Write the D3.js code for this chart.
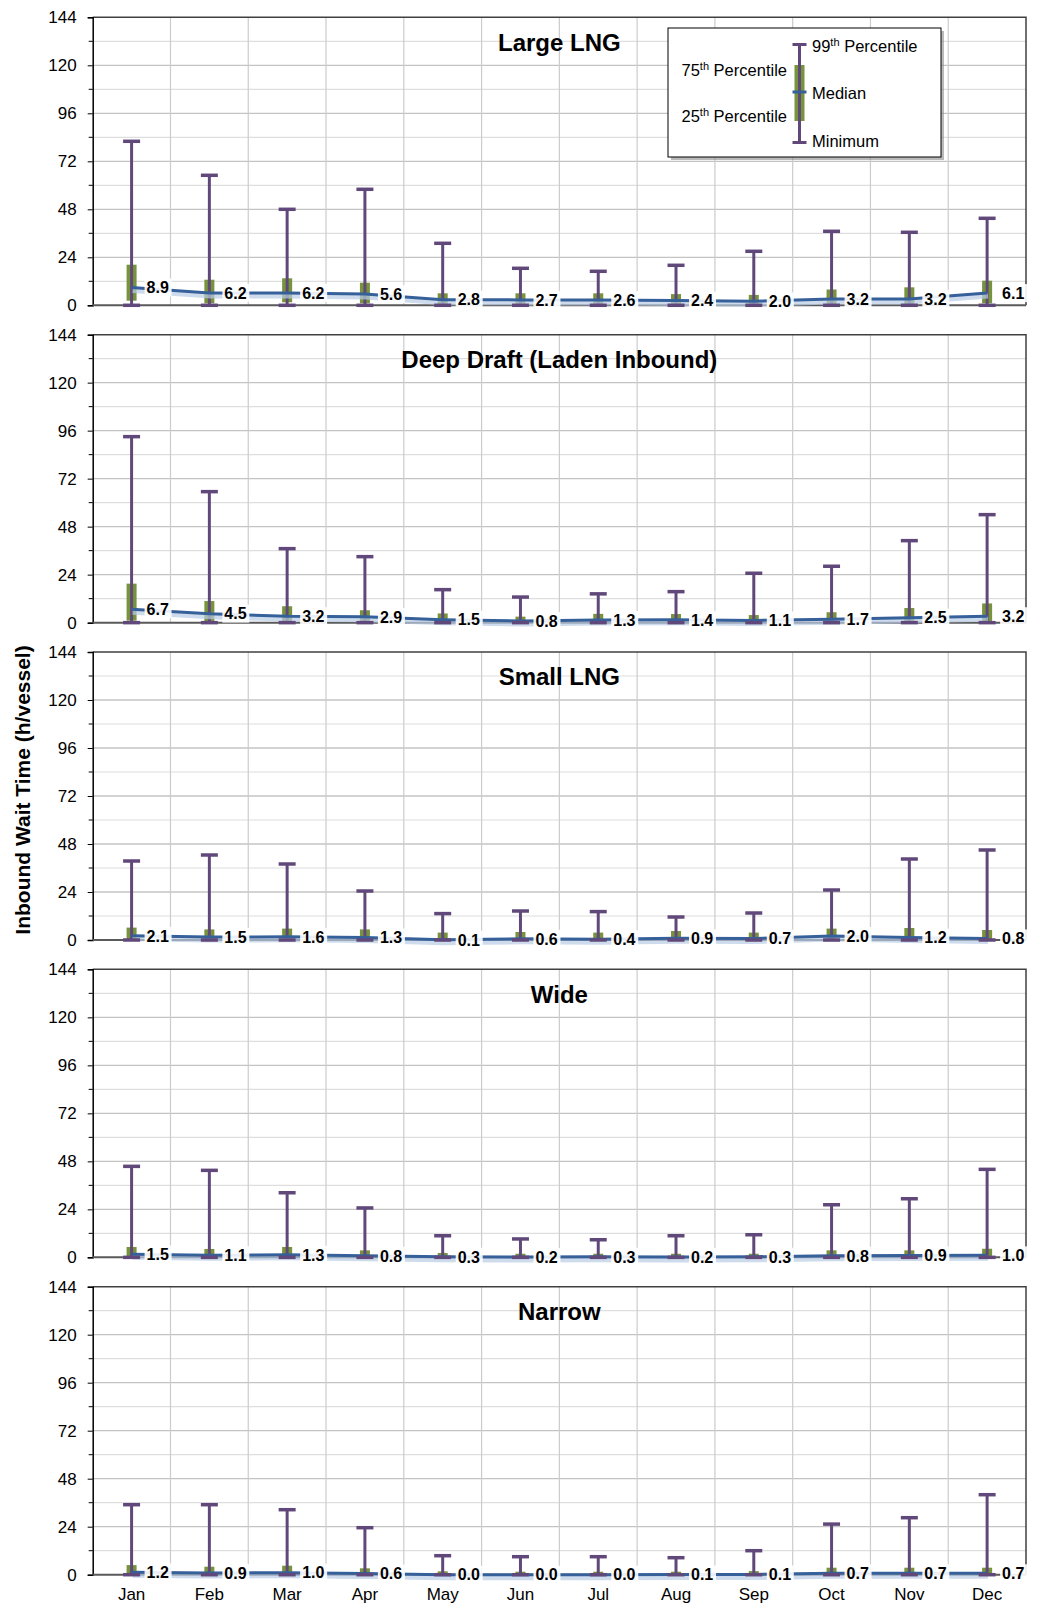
<!DOCTYPE html>
<html>
<head>
<meta charset="utf-8">
<script src="https://cdn.jsdelivr.net/npm/d3@7"></script>
<style>
  body { margin: 0; background: #fff; }
  svg { display: block; font-family: "Liberation Sans", Arial, sans-serif; }
</style>
</head>
<body>
<svg id="chart" width="1037" height="1604"></svg>
<script>
// ---- data (hours per vessel) ----
const months = ["Jan", "Feb", "Mar", "Apr", "May", "Jun", "Jul", "Aug", "Sep", "Oct", "Nov", "Dec"];
const yTicks = [0, 24, 48, 72, 96, 120, 144];
const panelTitles = ["Large LNG", "Deep Draft (Laden Inbound)", "Small LNG", "Wide", "Narrow"];

const largeP99 = [82, 65, 48, 58, 31, 18.5, 17, 20, 27, 37, 36.5, 43.5];
const largeQ3  = [20.3, 12.8, 13.5, 11.3, 6, 6, 6, 5.6, 5.2, 7.9, 9, 12.3];
const largeQ1  = [2.3, 1, 1.5, 1, 0.5, 0.5, 0.5, 0.5, 0.4, 0.5, 0.5, 1];
const largeMed = [8.9, 6.2, 6.2, 5.6, 2.8, 2.7, 2.6, 2.4, 2.0, 3.2, 3.2, 6.1];

const deepP99 = [93, 65.5, 37, 33, 16.5, 12.8, 14.4, 15.5, 24.7, 28.2, 41, 54];
const deepQ3  = [19.5, 10.8, 8.2, 6.2, 4.6, 3, 4.4, 4.3, 3.8, 5.2, 7.3, 9.6];
const deepQ1  = [1, 0.5, 0.3, 0.3, 0.2, 0.1, 0.2, 0.2, 0.1, 0.2, 0.3, 0.4];
const deepMed = [6.7, 4.5, 3.2, 2.9, 1.5, 0.8, 1.3, 1.4, 1.1, 1.7, 2.5, 3.2];

const smallP99 = [39.5, 42.5, 38, 24.5, 13.2, 14.5, 14.2, 11.5, 13.5, 25, 40.5, 45];
const smallQ3  = [6.2, 5.3, 5.7, 5.3, 3.7, 4, 3.7, 4.5, 3.7, 5.7, 6, 5];
const smallQ1  = [0.3, 0.2, 0.2, 0.2, 0, 0.1, 0, 0.1, 0.1, 0.3, 0.2, 0.1];
const smallMed = [2.1, 1.5, 1.6, 1.3, 0.1, 0.6, 0.4, 0.9, 0.7, 2.0, 1.2, 0.8];

const wideP99 = [45.5, 43.5, 32.3, 24.7, 10.8, 9.2, 8.8, 10.8, 11.3, 26.3, 29.3, 44];
const wideQ3  = [5.2, 4.2, 5.2, 3.5, 2.2, 1.8, 1.8, 1.8, 1.8, 3.5, 3.5, 4.3];
const wideQ1  = [0.2, 0.1, 0.1, 0.1, 0, 0, 0, 0, 0, 0.1, 0.1, 0.1];
const wideMed = [1.5, 1.1, 1.3, 0.8, 0.3, 0.2, 0.3, 0.2, 0.3, 0.8, 0.9, 1.0];

const narrowP99 = [35, 35, 32.5, 23.5, 9.5, 9, 9, 8.5, 12, 25.3, 28.5, 40];
const narrowQ3  = [4.8, 4, 4.5, 3.2, 1.7, 1.5, 1.5, 1.5, 1.8, 3.5, 3.5, 3.5];
const narrowQ1  = [0.1, 0.1, 0.1, 0, 0, 0, 0, 0, 0, 0, 0, 0];
const narrowMed = [1.2, 0.9, 1.0, 0.6, 0.0, 0.0, 0.0, 0.1, 0.1, 0.7, 0.7, 0.7];

const minimum = [0, 0, 0, 0, 0, 0, 0, 0, 0, 0, 0, 0];

const panels = [
  { p99: largeP99, q3: largeQ3, q1: largeQ1, med: largeMed },
  { p99: deepP99, q3: deepQ3, q1: deepQ1, med: deepMed },
  { p99: smallP99, q3: smallQ3, q1: smallQ1, med: smallMed },
  { p99: wideP99, q3: wideQ3, q1: wideQ1, med: wideMed },
  { p99: narrowP99, q3: narrowQ3, q1: narrowQ1, med: narrowMed }
].map((p, i) => ({ ...p, min: minimum, title: panelTitles[i] }));

// ---- layout ----
const left = 92.7, right = 1026;
const firstTop = 17.3, panelH = 288, panelStep = 317.35;

const purple = "#60497a", green = "#77933c", blue = "#36609a";

const svg = d3.select("#chart");

const x = d3.scaleBand()
  .domain(months)
  .range([left, right]);
const cx = m => x(m) + x.bandwidth() / 2;

panels.forEach((p, pi) => {
  const top = firstTop + pi * panelStep;
  const y = d3.scaleLinear().domain([0, 144]).range([top + panelH, top]);
  const g = svg.append("g");

  // minor gridlines every 12
  g.selectAll(".minor")
    .data(d3.range(12, 144, 24))
    .enter().append("line")
    .attr("x1", left).attr("x2", right)
    .attr("y1", d => y(d)).attr("y2", d => y(d))
    .attr("stroke", "#dedede").attr("stroke-width", 1.2);

  // major gridlines every 24
  g.selectAll(".major")
    .data(yTicks.slice(1, -1))
    .enter().append("line")
    .attr("x1", left).attr("x2", right)
    .attr("y1", d => y(d)).attr("y2", d => y(d))
    .attr("stroke", "#c4c4c4").attr("stroke-width", 1.3);

  // vertical gridlines at category edges
  g.selectAll(".vgrid")
    .data(months.slice(1))
    .enter().append("line")
    .attr("x1", d => x(d)).attr("x2", d => x(d))
    .attr("y1", top).attr("y2", top + panelH)
    .attr("stroke", "#cccccc").attr("stroke-width", 1.2);

  // plot border (top + right)
  g.append("path")
    .attr("d", `M${left},${top}H${right}V${top + panelH}`)
    .attr("fill", "none").attr("stroke", "#404040").attr("stroke-width", 1.5);

  // left axis
  const yAxis = g.append("g")
    .attr("transform", `translate(${left},0)`)
    .call(d3.axisLeft(y).tickValues(yTicks).tickSize(5).tickPadding(11));
  yAxis.select(".domain").attr("stroke", "#000").attr("stroke-width", 1.5);
  yAxis.selectAll(".tick line").attr("stroke", "#000");
  yAxis.selectAll("text").attr("font-size", 17).attr("fill", "#000")
    .attr("font-family", "Liberation Sans, Arial, sans-serif");
  g.selectAll(".mtick")
    .data(d3.range(12, 144, 24))
    .enter().append("line")
    .attr("x1", left - 4).attr("x2", left)
    .attr("y1", d => y(d)).attr("y2", d => y(d))
    .attr("stroke", "#000");

  // zero line
  g.append("line")
    .attr("x1", left).attr("x2", right)
    .attr("y1", y(0)).attr("y2", y(0))
    .attr("stroke", "#595959").attr("stroke-width", 2);

  // title
  g.append("text")
    .attr("x", (left + right) / 2)
    .attr("y", top + 25)
    .attr("dy", "0.35em")
    .attr("text-anchor", "middle")
    .attr("font-size", 24).attr("font-weight", "bold")
    .text(p.title);

  const rows = months.map((m, i) => ({
    m, p99: p.p99[i], q3: p.q3[i], q1: p.q1[i], med: p.med[i], min: p.min[i]
  }));

  // interquartile boxes
  g.selectAll(".box")
    .data(rows)
    .enter().append("rect")
    .attr("x", d => cx(d.m) - 5)
    .attr("width", 10)
    .attr("y", d => y(d.q3))
    .attr("height", d => Math.max(0, y(d.q1) - y(d.q3)))
    .attr("fill", green);

  // whiskers
  g.selectAll(".whisker")
    .data(rows)
    .enter().append("line")
    .attr("x1", d => cx(d.m)).attr("x2", d => cx(d.m))
    .attr("y1", d => y(d.p99)).attr("y2", d => y(d.min))
    .attr("stroke", purple).attr("stroke-width", 3);

  // median line with soft shadow
  const line = d3.line()
    .x(d => cx(d.m))
    .y(d => y(d.med));
  g.append("path")
    .datum(rows)
    .attr("d", line)
    .attr("transform", "translate(1,3)")
    .attr("fill", "none")
    .attr("stroke", "#b8cce4").attr("stroke-width", 5).attr("opacity", 0.7);
  g.append("path")
    .datum(rows)
    .attr("d", line)
    .attr("fill", "none")
    .attr("stroke", blue).attr("stroke-width", 3);

  // caps
  ["p99", "min"].forEach(k => {
    g.selectAll(".cap-" + k)
      .data(rows)
      .enter().append("line")
      .attr("x1", d => cx(d.m) - 8.5).attr("x2", d => cx(d.m) + 8.5)
      .attr("y1", d => y(d[k])).attr("y2", d => y(d[k]))
      .attr("stroke", purple).attr("stroke-width", 3.5);
  });

  // median labels
  const lab = g.selectAll(".lab")
    .data(rows)
    .enter().append("g")
    .attr("transform", d => `translate(${cx(d.m) + 15},${y(d.med)})`);
  lab.append("rect")
    .attr("x", -2).attr("y", -9)
    .attr("width", 27).attr("height", 18)
    .attr("fill", "#fff").attr("opacity", 0.9);
  lab.append("text")
    .attr("dy", "0.36em")
    .attr("font-size", 16).attr("font-weight", "bold")
    .text(d => d.med.toFixed(1));

  // month labels on the bottom panel only
  if (pi === panels.length - 1) {
    const xAxis = g.append("g")
      .attr("transform", `translate(0,${y(0)})`)
      .call(d3.axisBottom(x).tickSize(0).tickPadding(13));
    xAxis.select(".domain").remove();
    xAxis.selectAll("text").attr("font-size", 17).attr("fill", "#000")
      .attr("font-family", "Liberation Sans, Arial, sans-serif");
  }
});

// y axis title
svg.append("text")
  .attr("transform", "translate(23,790) rotate(-90)")
  .attr("text-anchor", "middle")
  .attr("dy", "0.35em")
  .attr("font-size", 21).attr("font-weight", "bold")
  .text("Inbound Wait Time (h/vessel)");

// ---- legend ----
const lg = svg.append("g");
lg.append("rect")
  .attr("x", 671).attr("y", 31).attr("width", 273).attr("height", 129)
  .attr("fill", "#8c8c8c").attr("opacity", 0.6);
lg.append("rect")
  .attr("x", 668).attr("y", 28).attr("width", 273).attr("height", 129)
  .attr("fill", "#fff").attr("stroke", "#000").attr("stroke-width", 1);

const lx = 799.5;
lg.append("rect").attr("x", lx - 5).attr("y", 65).attr("width", 10).attr("height", 56).attr("fill", green);
lg.append("line").attr("x1", lx).attr("x2", lx).attr("y1", 44.5).attr("y2", 142.5)
  .attr("stroke", purple).attr("stroke-width", 3);
lg.append("line").attr("x1", lx - 7).attr("x2", lx + 7).attr("y1", 92).attr("y2", 92)
  .attr("stroke", blue).attr("stroke-width", 3);
[44.5, 142.5].forEach(v => {
  lg.append("line").attr("x1", lx - 7).attr("x2", lx + 7).attr("y1", v).attr("y2", v)
    .attr("stroke", purple).attr("stroke-width", 3);
});

const legendItems = [
  { num: "99", sup: "th", rest: " Percentile", x: 812, y: 46, anchor: "start" },
  { num: "", sup: "", rest: "Median", x: 812, y: 93, anchor: "start" },
  { num: "", sup: "", rest: "Minimum", x: 812, y: 141, anchor: "start" },
  { num: "75", sup: "th", rest: " Percentile", x: 787, y: 70, anchor: "end" },
  { num: "25", sup: "th", rest: " Percentile", x: 787, y: 116, anchor: "end" }
];
legendItems.forEach(it => {
  const t = lg.append("text")
    .attr("x", it.x).attr("y", it.y).attr("dy", "0.35em")
    .attr("text-anchor", it.anchor)
    .attr("font-size", 16.5);
  if (it.num) {
    t.append("tspan").text(it.num);
    t.append("tspan").attr("font-size", 11).attr("dy", "-0.55em").text(it.sup);
    t.append("tspan").attr("dy", "0.35em").text(it.rest);
  } else {
    t.text(it.rest);
  }
});
</script>
</body>
</html>
